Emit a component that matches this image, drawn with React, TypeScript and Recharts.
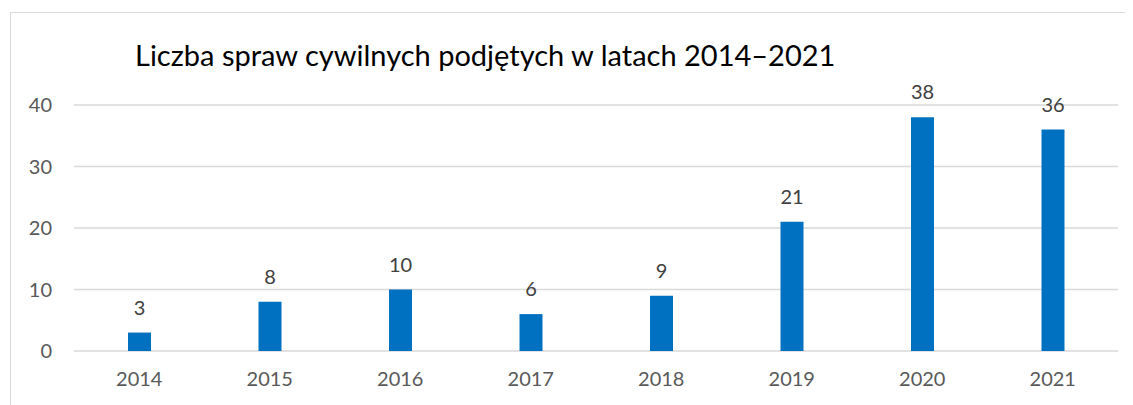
import React from 'react';
import { BarChart, Bar, XAxis, YAxis, CartesianGrid, LabelList } from 'recharts';

const years = ['2014', '2015', '2016', '2017', '2018', '2019', '2020', '2021'];
const cases = [3, 8, 10, 6, 9, 21, 38, 36];
const yTicks = [0, 10, 20, 30, 40];

const data = years.map((year, i) => ({ year, cases: cases[i] }));

const FONT = 'Lato, "Noto Sans", sans-serif';

export default function App() {
  return (
    <div
      style={{
        position: 'relative',
        marginLeft: 2,
        marginTop: 4,
        width: 1130,
        height: 400,
        border: '1px solid #D9D9D9',
        background: '#fff',
        fontFamily: FONT
      }}
    >
      <div
        style={{
          position: 'absolute',
          left: 124,
          top: 24,
          fontSize: 29,
          color: '#000',
          whiteSpace: 'nowrap'
        }}
      >
        Liczba spraw cywilnych podjętych w latach 2014–2021
      </div>
      <BarChart
        width={1130}
        height={400}
        data={data}
        margin={{ top: 92, right: 23, left: 0, bottom: 32 }}
      >
        <CartesianGrid vertical={false} stroke="#D9D9D9" strokeWidth={1.5} />
        <XAxis
          dataKey="year"
          axisLine={false}
          tickLine={false}
          tickSize={0}
          tickMargin={21}
          height={30}
          tick={{ fill: '#595959', fontSize: 20, fontFamily: FONT }}
        />
        <YAxis
          domain={[0, 40]}
          ticks={yTicks}
          width={63}
          axisLine={false}
          tickLine={false}
          tickSize={0}
          tickMargin={22}
          tick={{ fill: '#595959', fontSize: 20, fontFamily: FONT }}
        />
        <Bar dataKey="cases" fill="#0070C0" barSize={23} isAnimationActive={false}>
          <LabelList
            dataKey="cases"
            position="top"
            offset={18}
            fill="#404040"
            fontSize={20}
            fontFamily={FONT}
          />
        </Bar>
      </BarChart>
    </div>
  );
}
